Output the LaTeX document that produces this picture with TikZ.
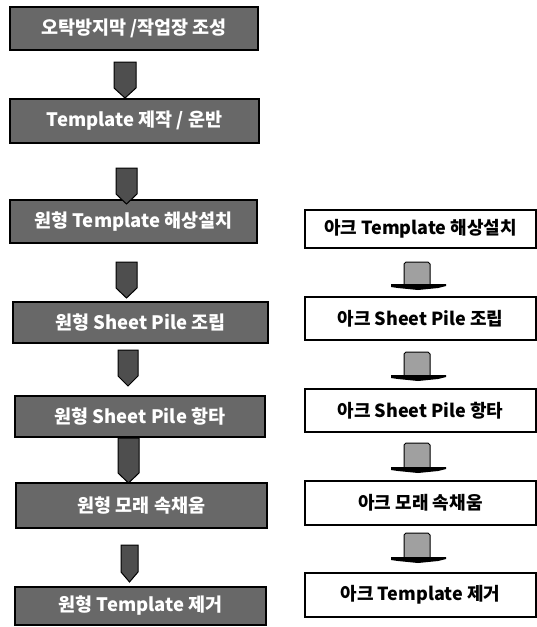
\documentclass[tikz,border=0pt]{standalone}
\usepackage{fontspec}
\setmainfont{Noto Sans CJK KR}
\usetikzlibrary{calc}
\definecolor{boxgray}{HTML}{686868}
\definecolor{arrgray}{HTML}{4E4E4E}
\definecolor{rarrgray}{HTML}{A0A0A0}
\tikzset{
  lbox/.style={draw=black, line width=1.4pt, fill=boxgray, text=white, inner sep=0pt,
    font=\bfseries\fontsize{18.5}{20}\selectfont},
  rbox/.style={draw=black, line width=1.2pt, fill=white, text=black, inner sep=0pt,
    minimum width=231pt, font=\bfseries\fontsize{18}{20}\selectfont},
  larrowsty/.style={fill=arrgray, draw=black, line width=1pt},
  rarrowsty/.style={fill=rarrgray, draw=black, line width=1pt},
}
\newcommand\larrowshape[4]{%
  \path[larrowsty] (#1,#3) -- (#2,#3) -- (#2,#4-10) -- ({(#1+#2)/2},#4) -- (#1,#4-10) -- cycle;}
\newcommand\rarrowshape[2]{%
  \path[rarrowsty] (404,#2-7) -- (404,#1+2) -- (406,#1) -- (428,#1) -- (430,#1+2) -- (430,#2-7);
  \fill[black] (391,#2-8) -- (446,#2-8) -- (446,#2-6) -- (438,#2-4) -- (418,#2-2) -- (398,#2-4) -- (391,#2-5) -- cycle;}
\begin{document}
\begin{tikzpicture}[x=1pt,y=-1pt]
\useasboundingbox[fill=white] (0,0) rectangle (537,627);
% left column
\node[lbox, minimum width=248pt, minimum height=43pt] (b1) at (134,28.5) {오탁방지막 /작업장 조성};
\node[lbox, minimum width=249pt, minimum height=44pt] (b2) at (134.5,121) {Template 제작 / 운반};
\node[lbox, minimum width=247pt, minimum height=43pt] (b3) at (133.5,221.5) {원형 Template 해상설치};
\node[lbox, minimum width=255pt, minimum height=41pt] (b4) at (140.5,322.5) {원형 Sheet Pile 조립};
\node[lbox, minimum width=250pt, minimum height=41pt] (b5) at (140,416.5) {원형 Sheet Pile 항타};
\node[lbox, minimum width=251pt, minimum height=45pt] (b6) at (141.5,505.5) {원형 모래 속채움};
\node[lbox, minimum width=251pt, minimum height=38pt] (b7) at (140.5,606) {원형 Template 제거};
\larrowshape{114}{136}{62}{98}
\larrowshape{116}{137}{168}{204}
\larrowshape{116}{137}{262}{298}
\larrowshape{118}{138}{350}{386}
\larrowshape{118}{139}{438}{483}
\larrowshape{121}{138}{545}{582}
% right column
\node[rbox, minimum height=38pt] (r1) at (420.5,229) {아크 Template 해상설치};
\node[rbox, minimum height=43pt] (r2) at (420.5,318.5) {아크 Sheet Pile 조립};
\node[rbox, minimum height=43pt] (r3) at (420.5,410.5) {아크 Sheet Pile 항타};
\node[rbox, minimum height=44pt] (r4) at (420.5,503) {아크 모래 속채움};
\node[rbox, minimum height=44pt] (r5) at (420.5,595) {아크 Template 제거};
\rarrowshape{262}{292}
\rarrowshape{352}{383}
\rarrowshape{443}{475}
\rarrowshape{533}{565}
\end{tikzpicture}
\end{document}
